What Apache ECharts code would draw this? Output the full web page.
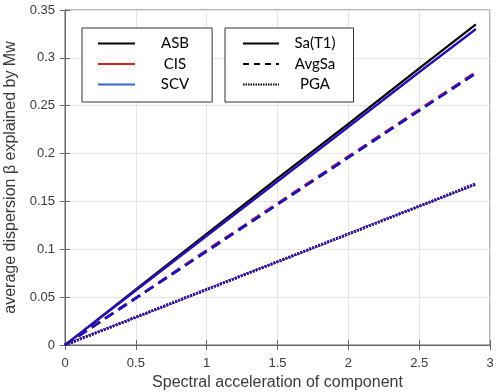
<!DOCTYPE html>
<html>
<head>
<meta charset="utf-8">
<script src="https://cdn.jsdelivr.net/npm/echarts@6/dist/echarts.min.js"></script>
<style>
html,body{margin:0;padding:0;background:#fff;}
#chart{width:497px;height:392px;}
</style>
</head>
<body>
<div id="chart"></div>
<script>
// ---- data ----
var xValues   = [0, 0.5, 1, 1.5, 2, 2.5, 2.9];
var asbSa     = [0, 0.058, 0.116, 0.174, 0.231, 0.289, 0.335];
var cisSa     = [0, 0.057, 0.114, 0.171, 0.228, 0.285, 0.330];
var scvSa     = [0, 0.057, 0.114, 0.171, 0.228, 0.285, 0.330];
var asbAvgSa  = [0, 0.049, 0.098, 0.147, 0.196, 0.245, 0.284];
var cisAvgSa  = [0, 0.049, 0.099, 0.148, 0.197, 0.246, 0.285];
var scvAvgSa  = [0, 0.049, 0.098, 0.147, 0.196, 0.245, 0.284];
var asbPGA    = [0, 0.029, 0.058, 0.087, 0.116, 0.145, 0.168];
var cisPGA    = [0, 0.029, 0.058, 0.087, 0.116, 0.145, 0.169];
var scvPGA    = [0, 0.029, 0.058, 0.087, 0.116, 0.145, 0.168];
var sourceNames = ['ASB', 'CIS', 'SCV'];
var measureNames = ['Sa(T1)', 'AvgSa', 'PGA'];
var xTicks = [0, 0.5, 1, 1.5, 2, 2.5, 3];
var yTicks = [0, 0.05, 0.1, 0.15, 0.2, 0.25, 0.3, 0.35];

// ---- styles ----
var colBlack = '#000000', colRed = '#d42020', colBlue = '#1515c8';
var legendBlue = '#3464d4';
function pairs(ys){ return xValues.map(function(x,i){ return [x, ys[i]]; }); }
function dataLine(name, ys, color, type, width){
  return {name:name, type:'line', data:pairs(ys), symbol:'none', silent:true,
    lineStyle:{color:color, width:width, type:type}, itemStyle:{color:color}, z:3};
}
var dashed = [10,6], dotted = [2,1.2];
var series = [
  dataLine('ASB-Sa', asbSa, colBlack, 'solid', 2.2),
  dataLine('CIS-Sa', cisSa, colRed, 'solid', 2.2),
  dataLine('SCV-Sa', scvSa, colBlue, 'solid', 2.2),
  dataLine('ASB-Avg', asbAvgSa, colBlack, dashed, 2.6),
  dataLine('CIS-Avg', cisAvgSa, colRed, dashed, 2.6),
  dataLine('SCV-Avg', scvAvgSa, colBlue, dashed, 2.6),
  dataLine('ASB-PGA', asbPGA, colBlack, dotted, 2.6),
  dataLine('CIS-PGA', cisPGA, colRed, dotted, 2.6),
  dataLine('SCV-PGA', scvPGA, colBlue, dotted, 2.6)
];
// legend-only series
var legendColors = [colBlack, colRed, legendBlue];
sourceNames.forEach(function(n,i){
  series.push({name:n, type:'line', data:[], symbol:'none',
    lineStyle:{color:legendColors[i], width:2.2}, itemStyle:{color:legendColors[i]}});
});
var legendTypes = ['solid', [6,5], [1.5,1]];
measureNames.forEach(function(n,i){
  series.push({name:n, type:'line', data:[], symbol:'none',
    lineStyle:{color:'#000', width:2, type:legendTypes[i]}, itemStyle:{color:'#000'}});
});

var axisCol = '#666666', labelCol = '#3a3a3a';
var legendFont = 'Lato, "Open Sans", sans-serif';
var axisFont = '"Liberation Sans", Arial, sans-serif';
var hiddenSymbol = {opacity:0, color:'rgba(0,0,0,0)', borderColor:'rgba(0,0,0,0)', borderWidth:0};

var chart = echarts.init(document.getElementById('chart'), null, {renderer:'canvas'});
chart.setOption({
  backgroundColor:'#ffffff',
  animation:false,
  grid:{left:65, right:7, top:10, bottom:47, show:true, borderColor:axisCol, borderWidth:1,
        containLabel:false, outerBoundsMode:'none'},
  legend:[
    {data:sourceNames, orient:'vertical', left:82, top:28, padding:[8,23,10,15],
     itemWidth:37, itemHeight:14, itemGap:5.5, selectedMode:false,
     borderColor:'#333', borderWidth:1, backgroundColor:'#fff',
     itemStyle:hiddenSymbol,
     formatter:'{t|{name}}',
     textStyle:{rich:{t:{width:70, align:'center', fontFamily:legendFont, fontSize:15, color:'#000'}}}},
    {data:measureNames, orient:'vertical', left:225, top:28, padding:[8,18,10,17],
     itemWidth:36, itemHeight:14, itemGap:5.5, selectedMode:false,
     borderColor:'#333', borderWidth:1, backgroundColor:'#fff',
     itemStyle:hiddenSymbol,
     formatter:'{t|{name}}',
     textStyle:{rich:{t:{width:62, align:'center', fontFamily:legendFont, fontSize:15, color:'#000'}}}}
  ],
  xAxis:[
    {type:'value', min:xTicks[0], max:xTicks[xTicks.length-1], interval:0.5,
     name:'Spectral acceleration of component', nameLocation:'middle', nameGap:29,
     nameTextStyle:{fontFamily:axisFont, fontSize:16, color:labelCol},
     axisLine:{show:true, lineStyle:{color:axisCol}},
     axisTick:{show:true, inside:true, length:5, lineStyle:{color:axisCol}},
     axisLabel:{fontFamily:axisFont, fontSize:13, color:labelCol, margin:12,
       formatter:function(v){ return String(v); }},
     splitLine:{show:true, lineStyle:{color:'#e4e4e4', width:1}}},
    {type:'value', position:'top', min:xTicks[0], max:xTicks[xTicks.length-1], interval:0.5,
     axisLine:{show:true, lineStyle:{color:axisCol}},
     axisTick:{show:true, inside:true, length:5, lineStyle:{color:axisCol}},
     axisLabel:{show:false}, splitLine:{show:false}}
  ],
  yAxis:[
    {type:'value', min:yTicks[0], max:yTicks[yTicks.length-1], interval:0.05,
     name:'average dispersion \u03b2 explained by Mw', nameLocation:'middle', nameGap:35,
     nameTextStyle:{fontFamily:axisFont, fontSize:16, color:labelCol},
     axisLine:{show:true, lineStyle:{color:axisCol}},
     axisTick:{show:true, inside:true, length:5, lineStyle:{color:axisCol}},
     axisLabel:{fontFamily:axisFont, fontSize:13, color:labelCol, margin:10,
       formatter:function(v){ return String(Math.round(v*100)/100); }},
     splitLine:{show:true, lineStyle:{color:'#e4e4e4', width:1}}},
    {type:'value', position:'right', min:yTicks[0], max:yTicks[yTicks.length-1], interval:0.05,
     axisLine:{show:true, lineStyle:{color:axisCol}},
     axisTick:{show:true, inside:true, length:5, lineStyle:{color:axisCol}},
     axisLabel:{show:false}, splitLine:{show:false}}
  ],
  series:series
});
</script>
</body>
</html>
